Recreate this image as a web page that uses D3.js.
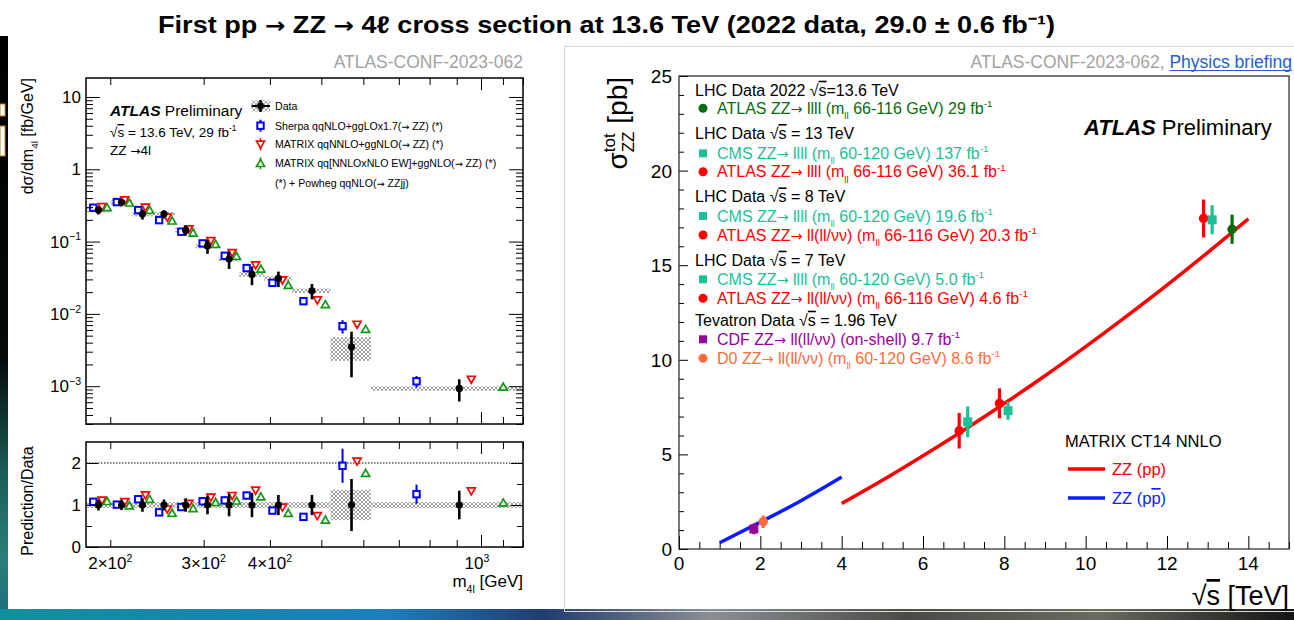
<!DOCTYPE html>
<html>
<head>
<meta charset="utf-8">
<script src="https://cdn.jsdelivr.net/npm/d3@7"></script>
<style>
  html, body { margin: 0; padding: 0; background: #fff; }
  svg { display: block; font-family: "Liberation Sans", Arial, Helvetica, sans-serif; }
</style>
</head>
<body>
<svg id="chart" width="1294" height="620"></svg>
<script>
// ---------------- Left: dσ/dm4l at 13.6 TeV ----------------
const binEdges      = [180, 200, 220, 240, 265, 290, 320, 350, 390, 440, 520, 620, 1200];
const dataXsec      = [0.273, 0.349, 0.240, 0.240, 0.144, 0.0867, 0.0573, 0.0351, 0.0310, 0.0209, 0.0035, 0.00093];
const dataStatErr   = [0.13, 0.12, 0.16, 0.13, 0.16, 0.22, 0.27, 0.29, 0.24, 0.24, 0.62, 0.34];
const dataSystErr   = [0.07, 0.07, 0.07, 0.07, 0.07, 0.07, 0.07, 0.07, 0.07, 0.07, 0.36, 0.07];
const sherpaXsec    = [0.294, 0.352, 0.273, 0.198, 0.137, 0.0944, 0.0636, 0.0430, 0.0269, 0.0150, 0.00677, 0.00117];
const sherpaErr     = [0.03, 0.03, 0.03, 0.03, 0.03, 0.03, 0.04, 0.05, 0.05, 0.08, 0.21, 0.18];
const matrixXsec    = [0.303, 0.375, 0.297, 0.216, 0.149, 0.1026, 0.0700, 0.0473, 0.0293, 0.0155, 0.00714, 0.00124];
const matrixEwXsec  = [0.297, 0.344, 0.273, 0.194, 0.132, 0.0923, 0.0630, 0.0420, 0.0250, 0.0135, 0.00615, 0.00098];
const predSmallErr  = 0.03;

const m4lLabelTicks  = [200, 300, 400, 1000];
const m4lLabelText   = ["2×10^{2}", "3×10^{2}", "4×10^{2}", "10^{3}"];
const xsecMajorTicks = [1e-3, 1e-2, 1e-1, 1, 10];
const xsecMajorText  = ["10^{−3}", "10^{−2}", "10^{−1}", "1", "10"];
const ratioMajorTicks = [0, 1, 2];
const ratioMinorTicks = [0.5, 1.5];

// ---------------- Right: total ZZ cross section vs √s ----------------
const measNames = ["ATLAS 13.6", "ATLAS 13", "CMS 13", "ATLAS 8", "CMS 8", "ATLAS 7", "CMS 7", "CDF 1.96", "D0 1.96"];
const measSqrtS = [13.6, 12.9, 13.11, 7.88, 8.09, 6.89, 7.1, 1.84, 2.07];
const measXsec  = [16.9, 17.47, 17.4, 7.70, 7.31, 6.25, 6.72, 1.06, 1.44];
const measErr   = [0.77, 1.0, 0.77, 0.79, 0.48, 0.94, 0.81, 0.28, 0.33];

const ppSqrtS    = [4, 5, 6, 7, 8, 9, 10, 11, 12, 13, 14];
const ppXsec     = [2.40, 3.63, 4.93, 6.28, 7.69, 9.16, 10.70, 12.30, 13.95, 15.67, 17.45];
const ppbarSqrtS = [1, 2, 3, 4];
const ppbarXsec  = [0.33, 1.42, 2.55, 3.80];

const sqrtsTicks = [0, 2, 4, 6, 8, 10, 12, 14];
const sigmaTicks = [0, 5, 10, 15, 20, 25];

const legendRows = [
  { text: "LHC Data 2022 #sqrt{s}=13.6 TeV" },
  { text: "ATLAS ZZ→ llll (m_{ll} 66-116 GeV) 29 fb^{-1}", meas: "ATLAS 13.6" },
  { text: "LHC Data #sqrt{s} = 13 TeV" },
  { text: "CMS ZZ→ llll (m_{ll} 60-120 GeV) 137 fb^{-1}", meas: "CMS 13" },
  { text: "ATLAS ZZ→ llll (m_{ll} 66-116 GeV) 36.1 fb^{-1}", meas: "ATLAS 13" },
  { text: "LHC Data #sqrt{s} = 8 TeV" },
  { text: "CMS ZZ→ llll (m_{ll} 60-120 GeV) 19.6 fb^{-1}", meas: "CMS 8" },
  { text: "ATLAS ZZ→ ll(ll/νν) (m_{ll} 66-116 GeV) 20.3 fb^{-1}", meas: "ATLAS 8" },
  { text: "LHC Data #sqrt{s} = 7 TeV" },
  { text: "CMS ZZ→ llll (m_{ll} 60-120 GeV) 5.0 fb^{-1}", meas: "CMS 7" },
  { text: "ATLAS ZZ→ ll(ll/νν) (m_{ll} 66-116 GeV) 4.6 fb^{-1}", meas: "ATLAS 7" },
  { text: "Tevatron Data #sqrt{s} = 1.96 TeV" },
  { text: "CDF ZZ→ ll(ll/νν) (on-shell) 9.7 fb^{-1}", meas: "CDF 1.96" },
  { text: "D0 ZZ→ ll(ll/νν) (m_{ll} 60-120 GeV) 8.6 fb^{-1}", meas: "D0 1.96" }
];

// ---------------- styles ----------------
const measStyle = {
  "ATLAS 13.6": { color: "#086b0e", shape: "circle" },
  "ATLAS 13":   { color: "#ff0000", shape: "circle" },
  "CMS 13":     { color: "#1dbf96", shape: "square" },
  "ATLAS 8":    { color: "#ff0000", shape: "circle" },
  "CMS 8":      { color: "#1dbf96", shape: "square" },
  "ATLAS 7":    { color: "#ff0000", shape: "circle" },
  "CMS 7":      { color: "#1dbf96", shape: "square" },
  "CDF 1.96":   { color: "#990099", shape: "square" },
  "D0 1.96":    { color: "#ff6a3d", shape: "circle" }
};
const COL_SHERPA = "#0000ff", COL_MATRIX = "#ff0000", COL_EW = "#119911";
const ARROW_FONT = "'DejaVu Sans', sans-serif";

const svg = d3.select("#chart");
const defs = svg.append("defs");
defs.append("pattern").attr("id", "hatch").attr("patternUnits", "userSpaceOnUse")
  .attr("width", 4).attr("height", 4)
  .append("path").attr("d", "M0,0L4,4M4,0L0,4").attr("stroke", "#8a8a8a").attr("stroke-width", 0.8);
const grad = defs.append("linearGradient").attr("id", "strip").attr("x1", 0).attr("x2", 1);
[[0, "#0f8f9c"], [0.3, "#1b7fc0"], [0.42, "#203c70"], [0.55, "#8a8f94"], [0.7, "#4b4b46"], [0.85, "#6a6a60"], [1, "#141414"]]
  .forEach(([o, c]) => grad.append("stop").attr("offset", o).attr("stop-color", c));
const gradL = defs.append("linearGradient").attr("id", "stripL").attr("x1", 0).attr("x2", 0).attr("y1", 0).attr("y2", 1);
[[0, "#000"], [0.55, "#050a0a"], [0.75, "#1a5f58"], [0.9, "#2a7f7a"], [1, "#1a6a80"]]
  .forEach(([o, c]) => gradL.append("stop").attr("offset", o).attr("stop-color", c));

// ---------------- slide frame ----------------
svg.append("rect").attr("x", 0).attr("y", 36).attr("width", 8).attr("height", 584).attr("fill", "url(#stripL)");
svg.append("rect").attr("x", 0).attr("y", 104).attr("width", 5).attr("height", 12).attr("fill", "#fff").attr("stroke", "#c67a1e").attr("stroke-width", 1);
svg.append("rect").attr("x", 0).attr("y", 126).attr("width", 5).attr("height", 30).attr("fill", "#fff").attr("stroke", "#c67a1e").attr("stroke-width", 1);
svg.append("rect").attr("x", 0).attr("y", 609).attr("width", 1294).attr("height", 11).attr("fill", "url(#strip)");
svg.append("rect").attr("x", 564.5).attr("y", 46.5).attr("width", 740).attr("height", 565)
  .attr("fill", "none").attr("stroke", "#d6d6d6").attr("stroke-width", 1);

// ---------------- rich text helper (sub/superscripts, radicals, bars, arrows) ----------------
function plain(t, s, dy) {
  // arrows are taken from DejaVu Sans so they keep a full-width glyph
  s.split(/(→)/).filter(x => x.length).forEach((piece, j) => {
    const sp = t.append("tspan").text(piece);
    if (j === 0 && dy) sp.attr("dy", dy);
    if (piece === "→") sp.style("font-family", ARROW_FONT).attr("font-size", "0.9em");
  });
}
function rich(parent, x, y, str, fs, attrs = {}) {
  const t = parent.append("text").attr("x", x).attr("y", y).attr("font-size", fs);
  Object.entries(attrs).forEach(([k, v]) => t.attr(k, v));
  let shift = 0;
  str.split(/(_\{[^}]*\}|\^\{[^}]*\}|#sqrt\{[^}]*\}|#bar\{[^}]*\})/).filter(s => s.length).forEach(p => {
    let m;
    if ((m = p.match(/^_\{(.*)\}$/))) {
      const s = fs * 0.33;
      t.append("tspan").attr("font-size", fs * 0.62).attr("dy", s - shift).text(m[1]);
      shift = s;
    } else if ((m = p.match(/^\^\{(.*)\}$/))) {
      const s = -fs * 0.42;
      t.append("tspan").attr("font-size", fs * 0.62).attr("dy", s - shift).text(m[1]);
      shift = s;
    } else if ((m = p.match(/^#sqrt\{(.*)\}$/))) {
      t.append("tspan").attr("dy", -shift).text("√");
      shift = 0;
      t.append("tspan").style("text-decoration", "overline").text(m[1]);
    } else if ((m = p.match(/^#bar\{(.*)\}$/))) {
      t.append("tspan").attr("dy", -shift).style("text-decoration", "overline").text(m[1]);
      shift = 0;
    } else {
      plain(t, p, -shift);
      shift = 0;
    }
  });
  return t;
}

function tickAxis(g, axisFn, scale, values, len) {
  g.call(axisFn(scale).tickValues(values).tickSize(-len).tickFormat(""));
  g.select(".domain").remove();
  g.selectAll("line").attr("stroke", "#000").attr("stroke-width", 1);
}

// ---------------- title ----------------
{
  const t = svg.append("text").attr("x", 606.5).attr("y", 33).attr("text-anchor", "middle")
    .attr("font-size", 24).attr("font-weight", "bold")
    .attr("textLength", 897).attr("lengthAdjust", "spacingAndGlyphs");
  plain(t, "First pp → ZZ → 4ℓ cross section at 13.6 TeV (2022 data, 29.0 ± 0.6 fb⁻¹)", 0);
}

svg.append("text").attr("x", 523).attr("y", 68).attr("text-anchor", "end")
  .attr("font-size", 17.5).attr("fill", "#a3a3a3").text("ATLAS-CONF-2023-062");
const ref2 = svg.append("text").attr("x", 1292).attr("y", 68).attr("text-anchor", "end").attr("font-size", 17.5);
ref2.append("tspan").attr("fill", "#a3a3a3").text("ATLAS-CONF-2023-062, ");
ref2.append("tspan").attr("fill", "#2a5bd7").text("Physics briefing");
{
  const lw = ref2.node().getSubStringLength(21, 16);
  svg.append("line").attr("x1", 1292 - lw).attr("x2", 1292).attr("y1", 70.5).attr("y2", 70.5)
    .attr("stroke", "#2a5bd7").attr("stroke-width", 1);
}

// ================= LEFT PANEL =================
const L = { x0: 86, x1: 523, y0: 78, y1: 424, r0: 442, r1: 547 };
const xM = d3.scaleLog().domain([180, 1200]).range([L.x0, L.x1]);
const yX = d3.scaleLog().domain([3e-4, 18.3]).range([L.y1, L.y0]);
const yR = d3.scaleLinear().domain([0, 2.5]).range([L.r1, L.r0]);

const bins = dataXsec.map((d, i) => {
  const lo = xM(binEdges[i]), hi = xM(binEdges[i + 1]);
  return {
    i, lo, hi,
    xData: xM((binEdges[i] + binEdges[i + 1]) / 2),
    xSherpa: lo + 0.30 * (hi - lo),
    xMatrix: lo + 0.66 * (hi - lo),
    xEw: lo + 0.87 * (hi - lo)
  };
});

const leftG = svg.append("g");
const clipTop = defs.append("clipPath").attr("id", "clipTop");
clipTop.append("rect").attr("x", L.x0).attr("y", L.y0).attr("width", L.x1 - L.x0).attr("height", L.y1 - L.y0);
const clipRat = defs.append("clipPath").attr("id", "clipRat");
clipRat.append("rect").attr("x", L.x0).attr("y", L.r0).attr("width", L.x1 - L.x0).attr("height", L.r1 - L.r0);

// marker drawers
function sq(g, x, y, c) {
  g.append("rect").attr("x", x - 3.2).attr("y", y - 3.2).attr("width", 6.4).attr("height", 6.4)
    .attr("fill", "#fff").attr("stroke", c).attr("stroke-width", 2);
}
function triDown(g, x, y, c) {
  g.append("path").attr("d", `M${x - 4},${y - 3.2}L${x + 4},${y - 3.2}L${x},${y + 3.8}Z`)
    .attr("fill", "#fff").attr("stroke", c).attr("stroke-width", 1.7);
}
function triUp(g, x, y, c) {
  g.append("path").attr("d", `M${x - 4},${y + 3.2}L${x + 4},${y + 3.2}L${x},${y - 3.8}Z`)
    .attr("fill", "#fff").attr("stroke", c).attr("stroke-width", 1.7);
}
function vbar(g, x, y1, y2, c, w) {
  g.append("line").attr("x1", x).attr("x2", x).attr("y1", y1).attr("y2", y2).attr("stroke", c).attr("stroke-width", w);
}

// --- upper pad: differential cross section ---
const upperG = leftG.append("g").attr("clip-path", "url(#clipTop)");
bins.forEach(b => {
  const d = dataXsec[b.i], s = dataSystErr[b.i];
  upperG.append("rect").attr("x", b.lo).attr("width", b.hi - b.lo)
    .attr("y", yX(d * (1 + s))).attr("height", yX(d * (1 - s)) - yX(d * (1 + s)))
    .attr("fill", "url(#hatch)");
});
bins.forEach(b => {
  const i = b.i;
  vbar(upperG, b.xSherpa, yX(sherpaXsec[i] * (1 + sherpaErr[i])), yX(sherpaXsec[i] * (1 - sherpaErr[i])), COL_SHERPA, 2);
  sq(upperG, b.xSherpa, yX(sherpaXsec[i]), COL_SHERPA);
  vbar(upperG, b.xMatrix, yX(matrixXsec[i] * (1 + predSmallErr)), yX(matrixXsec[i] * (1 - predSmallErr)), COL_MATRIX, 1.5);
  triDown(upperG, b.xMatrix, yX(matrixXsec[i]), COL_MATRIX);
  vbar(upperG, b.xEw, yX(matrixEwXsec[i] * (1 + predSmallErr)), yX(matrixEwXsec[i] * (1 - predSmallErr)), COL_EW, 1.5);
  triUp(upperG, b.xEw, yX(matrixEwXsec[i]), COL_EW);
});
bins.forEach(b => {
  const d = dataXsec[b.i], e = dataStatErr[b.i];
  vbar(upperG, b.xData, yX(d * (1 + e)), yX(d * (1 - e)), "#000", 2.6);
  upperG.append("circle").attr("cx", b.xData).attr("cy", yX(d)).attr("r", 3.6).attr("fill", "#000");
});

// axes (ticks inward on all four sides)
const minorX = d3.range(200, 1201, 100).filter(v => v !== 1000);
const minorY = [];
[1e-4, 1e-3, 1e-2, 1e-1, 1, 10].forEach(dec => d3.range(2, 10).forEach(k => {
  const v = dec * k; if (v > 3e-4 && v < 18.3) minorY.push(v);
}));
tickAxis(leftG.append("g").attr("transform", `translate(${L.x0},0)`), d3.axisLeft, yX, xsecMajorTicks, 14);
tickAxis(leftG.append("g").attr("transform", `translate(${L.x0},0)`), d3.axisLeft, yX, minorY, 7);
tickAxis(leftG.append("g").attr("transform", `translate(${L.x1},0)`), d3.axisRight, yX, xsecMajorTicks, 14);
tickAxis(leftG.append("g").attr("transform", `translate(${L.x1},0)`), d3.axisRight, yX, minorY, 7);
[[L.y1, d3.axisBottom], [L.y0, d3.axisTop], [L.r1, d3.axisBottom], [L.r0, d3.axisTop]].forEach(([y, fn]) => {
  tickAxis(leftG.append("g").attr("transform", `translate(0,${y})`), fn, xM, minorX, 7);
  tickAxis(leftG.append("g").attr("transform", `translate(0,${y})`), fn, xM, [1000], 12);
});
leftG.append("rect").attr("x", L.x0).attr("y", L.y0).attr("width", L.x1 - L.x0).attr("height", L.y1 - L.y0)
  .attr("fill", "none").attr("stroke", "#000").attr("stroke-width", 1.5);

xsecMajorTicks.forEach((v, k) => rich(leftG, 81, yX(v) + 6, xsecMajorText[k], 17, { "text-anchor": "end" }));

// y title
rich(leftG.append("g").attr("transform", `translate(33,78) rotate(-90)`), 0, 0,
  "dσ/dm_{4l} [fb/GeV]", 16, { "text-anchor": "end" });

// in-plot labels
const atl = leftG.append("text").attr("x", 110).attr("y", 116).attr("font-size", 15.5);
atl.append("tspan").attr("font-weight", "bold").attr("font-style", "italic").text("ATLAS");
atl.append("tspan").text(" Preliminary");
rich(leftG, 110, 137, "#sqrt{s} = 13.6 TeV, 29 fb^{-1}", 13.5);
rich(leftG, 110, 155, "ZZ →4l", 13.5);

// legend
const lg = leftG.append("g");
const legY = [106, 125.7, 144.3, 163.3, 183.3];
const lgText = ["Data", "Sherpa qqNLO+ggLOx1.7(→ ZZ) (*)", "MATRIX qqNNLO+ggNLO(→ ZZ) (*)",
  "MATRIX qq[NNLOxNLO EW]+ggNLO(→ ZZ) (*)", "(*) + Powheg qqNLO(→ ZZjj)"];
lg.append("rect").attr("x", 251.5).attr("y", legY[0] - 5.5).attr("width", 18.5).attr("height", 11).attr("fill", "url(#hatch)");
lg.append("line").attr("x1", 251.5).attr("x2", 270).attr("y1", legY[0]).attr("y2", legY[0]).attr("stroke", "#000").attr("stroke-width", 2);
vbar(lg, 260.5, legY[0] - 6, legY[0] + 6, "#000", 2.4);
lg.append("circle").attr("cx", 260.5).attr("cy", legY[0]).attr("r", 3.4).attr("fill", "#000");
vbar(lg, 260.5, legY[1] - 6, legY[1] + 6, COL_SHERPA, 2); sq(lg, 260.5, legY[1], COL_SHERPA);
vbar(lg, 260.5, legY[2] - 6, legY[2] + 6, COL_MATRIX, 1.5); triDown(lg, 260.5, legY[2], COL_MATRIX);
vbar(lg, 260.5, legY[3] - 6, legY[3] + 6, COL_EW, 1.5); triUp(lg, 260.5, legY[3], COL_EW);
lgText.forEach((t, k) => rich(lg, 275, legY[k] + 3.8, t, 10.6));

// --- ratio pad ---
const ratG = leftG.append("g").attr("clip-path", "url(#clipRat)");
ratG.append("line").attr("x1", L.x0).attr("x2", L.x1).attr("y1", yR(2)).attr("y2", yR(2))
  .attr("stroke", "#000").attr("stroke-width", 1).attr("stroke-dasharray", "1.5,1.5");
bins.forEach(b => {
  const s = dataSystErr[b.i];
  ratG.append("rect").attr("x", b.lo).attr("width", b.hi - b.lo)
    .attr("y", yR(1 + s)).attr("height", yR(1 - s) - yR(1 + s)).attr("fill", "url(#hatch)");
});
bins.forEach(b => {
  const i = b.i, d = dataXsec[i];
  const rs = sherpaXsec[i] / d, rm = matrixXsec[i] / d, re = matrixEwXsec[i] / d;
  vbar(ratG, b.xSherpa, yR(rs * (1 + sherpaErr[i])), yR(rs * (1 - sherpaErr[i])), COL_SHERPA, 2);
  sq(ratG, b.xSherpa, yR(rs), COL_SHERPA);
  vbar(ratG, b.xMatrix, yR(rm * (1 + predSmallErr)), yR(rm * (1 - predSmallErr)), COL_MATRIX, 1.5);
  triDown(ratG, b.xMatrix, yR(rm), COL_MATRIX);
  vbar(ratG, b.xEw, yR(re * (1 + predSmallErr)), yR(re * (1 - predSmallErr)), COL_EW, 1.5);
  triUp(ratG, b.xEw, yR(re), COL_EW);
});
bins.forEach(b => {
  const e = dataStatErr[b.i];
  vbar(ratG, b.xData, yR(1 + e), yR(1 - e), "#000", 2.6);
  ratG.append("circle").attr("cx", b.xData).attr("cy", yR(1)).attr("r", 3.6).attr("fill", "#000");
});
tickAxis(leftG.append("g").attr("transform", `translate(${L.x0},0)`), d3.axisLeft, yR, ratioMajorTicks, 12);
tickAxis(leftG.append("g").attr("transform", `translate(${L.x0},0)`), d3.axisLeft, yR, ratioMinorTicks, 6);
tickAxis(leftG.append("g").attr("transform", `translate(${L.x1},0)`), d3.axisRight, yR, ratioMajorTicks, 12);
tickAxis(leftG.append("g").attr("transform", `translate(${L.x1},0)`), d3.axisRight, yR, ratioMinorTicks, 6);
leftG.append("rect").attr("x", L.x0).attr("y", L.r0).attr("width", L.x1 - L.x0).attr("height", L.r1 - L.r0)
  .attr("fill", "none").attr("stroke", "#000").attr("stroke-width", 1.5);
ratioMajorTicks.forEach(v => rich(leftG, 81, yR(v) + 6, String(v), 17, { "text-anchor": "end" }));
m4lLabelTicks.forEach((v, k) => rich(leftG, xM(v) + (v === 1000 ? -4 : 0), 569, m4lLabelText[k], 17, { "text-anchor": "middle" }));
rich(leftG, 523, 587, "m_{4l} [GeV]", 17, { "text-anchor": "end" });
leftG.append("text").attr("transform", "translate(33,501) rotate(-90)").attr("text-anchor", "middle")
  .attr("font-size", 16).text("Prediction/Data");

// ================= RIGHT PANEL =================
const R = { x0: 679, x1: 1289, y0: 76, y1: 549 };
const xS = d3.scaleLinear().domain([0, 15]).range([R.x0, R.x1]);
const yS = d3.scaleLinear().domain([0, 25]).range([R.y1, R.y0]);
const rightG = svg.append("g");

tickAxis(rightG.append("g").attr("transform", `translate(${R.x0},0)`), d3.axisLeft, yS, sigmaTicks, 9);
tickAxis(rightG.append("g").attr("transform", `translate(${R.x0},0)`), d3.axisLeft, yS,
  d3.range(0, 26).filter(v => v % 5 !== 0), 5);
tickAxis(rightG.append("g").attr("transform", `translate(0,${R.y1})`), d3.axisBottom, xS, sqrtsTicks, 13);
tickAxis(rightG.append("g").attr("transform", `translate(0,${R.y1})`), d3.axisBottom, xS,
  d3.range(0, 15.01, 0.5).filter(v => v % 2 !== 0), 7);
rightG.append("rect").attr("x", R.x0).attr("y", R.y0).attr("width", R.x1 - R.x0).attr("height", R.y1 - R.y0)
  .attr("fill", "none").attr("stroke", "#222").attr("stroke-width", 1.2);

sigmaTicks.forEach(v => rightG.append("text").attr("x", 672).attr("y", yS(v) + 7).attr("text-anchor", "end")
  .attr("font-size", 19).text(v));
sqrtsTicks.forEach(v => rightG.append("text").attr("x", xS(v)).attr("y", 570).attr("text-anchor", "middle")
  .attr("font-size", 19).text(v));
rich(rightG, 1289, 605, "#sqrt{s} [TeV]", 27, { "text-anchor": "end" });

// y title σ^tot_ZZ [pb]
{
  const g = rightG.append("g").attr("transform", "translate(627,77) rotate(-90)");
  const t = g.append("text").attr("text-anchor", "end").attr("font-size", 28);
  t.append("tspan").text("σ");
  t.append("tspan").attr("font-size", 17).attr("dy", -12).text("tot");
  t.append("tspan").attr("font-size", 17).attr("dx", -19).attr("dy", 19).text("ZZ");
  t.append("tspan").attr("dy", -7).text(" [pb]");
}

// theory curves
const curve = d3.line().curve(d3.curveMonotoneX);
rightG.append("path")
  .attr("d", curve(ppSqrtS.map((s, k) => [xS(s), yS(ppXsec[k])])))
  .attr("fill", "none").attr("stroke", "#ff0000").attr("stroke-width", 3.5);
rightG.append("path")
  .attr("d", curve(ppbarSqrtS.map((s, k) => [xS(s), yS(ppbarXsec[k])])))
  .attr("fill", "none").attr("stroke", "#0a1eff").attr("stroke-width", 3.5);

function marker(g, shape, x, y, c, size) {
  if (shape === "circle") g.append("circle").attr("cx", x).attr("cy", y).attr("r", size / 2).attr("fill", c);
  else g.append("rect").attr("x", x - size / 2).attr("y", y - size / 2).attr("width", size).attr("height", size).attr("fill", c);
}

// measurements
measNames.forEach((n, k) => {
  const st = measStyle[n], x = xS(measSqrtS[k]);
  vbar(rightG, x, yS(measXsec[k] + measErr[k]), yS(measXsec[k] - measErr[k]), st.color, 3.2);
  marker(rightG, st.shape, x, yS(measXsec[k]), st.color, st.shape === "circle" ? 9.5 : 9);
});

// legend
const legRowY = [90, 108.3, 133.3, 153.3, 171.7, 196.7, 216, 235, 260, 279.3, 298.3, 320, 339.3, 358.3];
legendRows.forEach((row, k) => {
  const y = legRowY[k];
  if (row.meas) {
    const st = measStyle[row.meas];
    marker(rightG, st.shape, 703, y, st.color, st.shape === "circle" ? 9 : 8);
    rich(rightG, 717, y + 5.7, row.text, 16, { fill: st.color });
  } else {
    rich(rightG, 695, y + 5.7, row.text, 16, { fill: "#000" });
  }
});

const atr = rightG.append("text").attr("x", 1084).attr("y", 135).attr("font-size", 22);
atr.append("tspan").attr("font-weight", "bold").attr("font-style", "italic").text("ATLAS");
atr.append("tspan").text(" Preliminary");

rightG.append("text").attr("x", 1065).attr("y", 447).attr("font-size", 16.5).text("MATRIX CT14 NNLO");
rightG.append("line").attr("x1", 1068).attr("x2", 1105).attr("y1", 469).attr("y2", 469).attr("stroke", "#ff0000").attr("stroke-width", 3.5);
rightG.append("line").attr("x1", 1068).attr("x2", 1105).attr("y1", 498).attr("y2", 498).attr("stroke", "#0a1eff").attr("stroke-width", 3.5);
rich(rightG, 1112, 475, "ZZ (pp)", 16.5, { fill: "#ff0000" });
rich(rightG, 1112, 504, "ZZ (p#bar{p})", 16.5, { fill: "#0a1eff" });
</script>
</body>
</html>
